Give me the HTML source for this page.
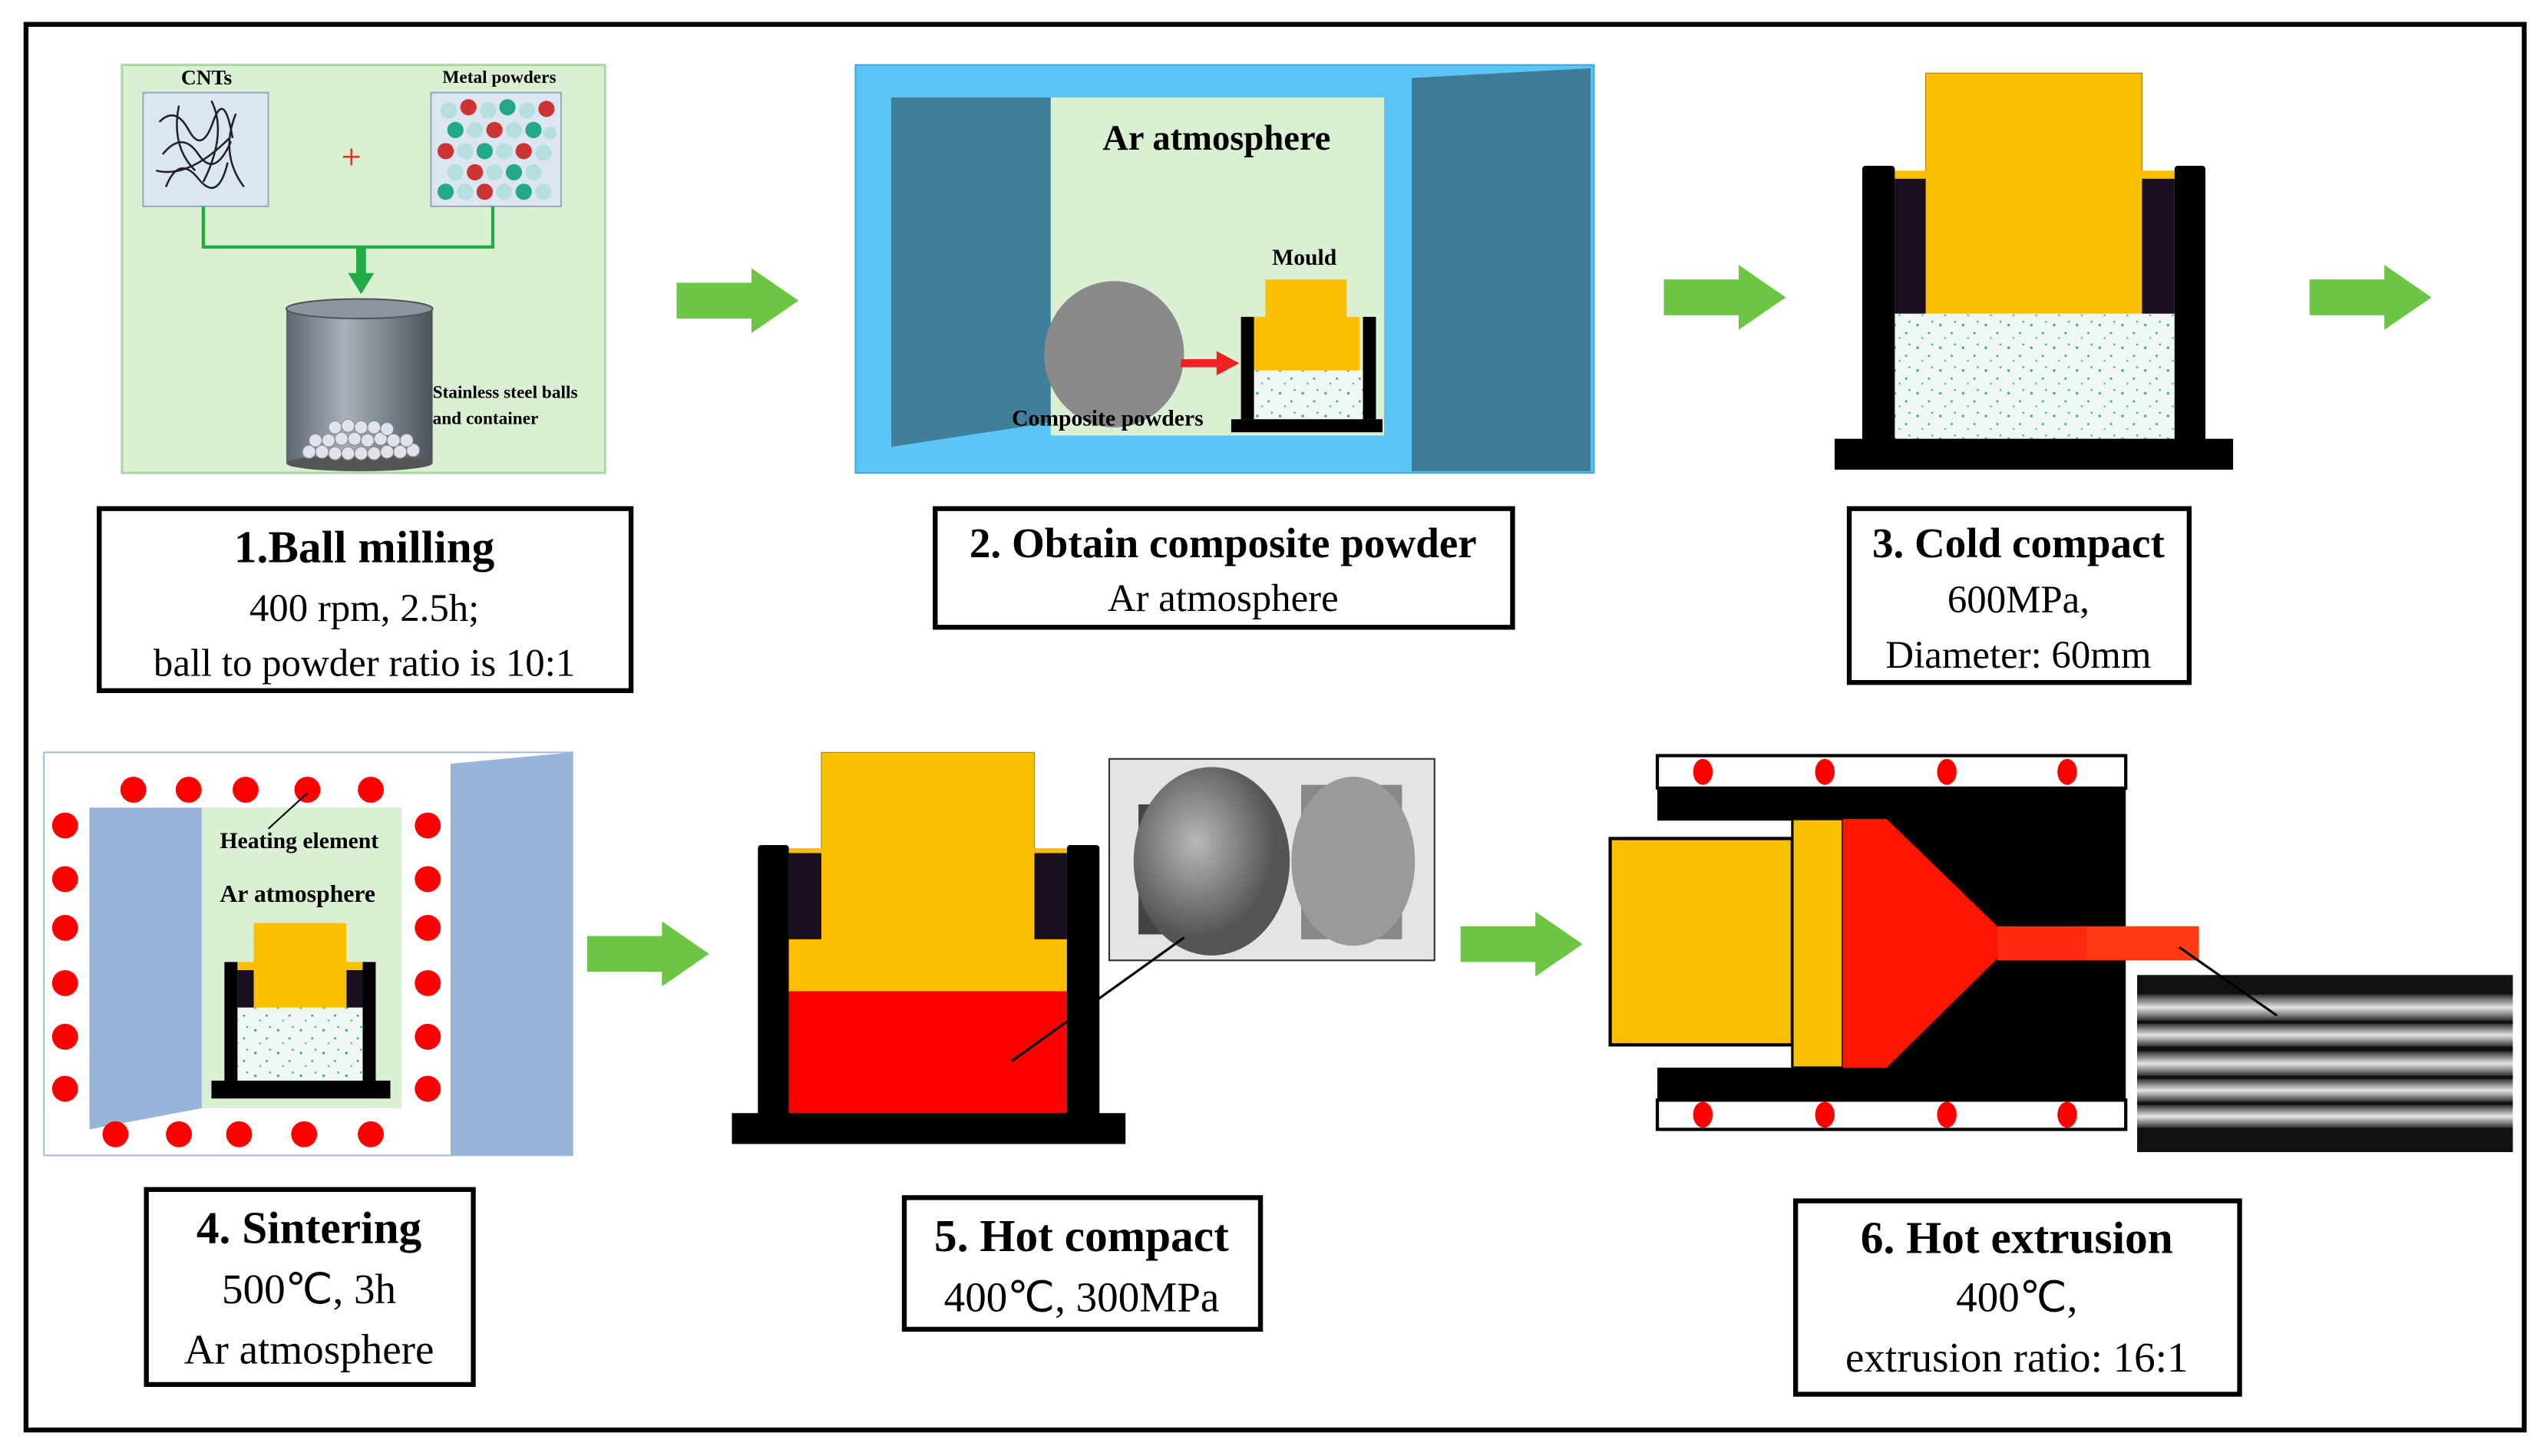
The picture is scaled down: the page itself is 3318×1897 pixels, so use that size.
<!DOCTYPE html>
<html><head><meta charset="utf-8"><style>
html,body{margin:0;padding:0;background:#fff;}
svg{display:block;}
text{font-family:"Liberation Serif",serif;}
</style></head><body>
<svg width="3318" height="1897" viewBox="0 0 1566 896" preserveAspectRatio="none" xmlns="http://www.w3.org/2000/svg">
<defs>
<linearGradient id="cyl" x1="0" x2="1"><stop offset="0" stop-color="#5d6670"/><stop offset="0.4" stop-color="#a9b1ba"/><stop offset="1" stop-color="#4a525b"/></linearGradient>
<pattern id="speck" width="14" height="14" patternUnits="userSpaceOnUse"><rect width="14" height="14" fill="#eef7f4"/><circle cx="3" cy="4" r="0.8" fill="#3fa88a"/><circle cx="10" cy="9" r="0.7" fill="#3fa88a"/><circle cx="6" cy="12" r="0.6" fill="#5bb"/><circle cx="12" cy="2" r="0.6" fill="#3fa88a"/></pattern>
<linearGradient id="wire" x1="0" y1="0" x2="0" y2="1"><stop offset="0" stop-color="#333"/><stop offset="0.5" stop-color="#e6e6e6"/><stop offset="1" stop-color="#333"/></linearGradient>
<radialGradient id="bil" cx="0.4" cy="0.4"><stop offset="0" stop-color="#b8b8b8"/><stop offset="1" stop-color="#555"/></radialGradient>
<g id="garrow"><rect x="0" y="-11" width="48" height="22" fill="#6cc644"/><polygon points="46,-20 75,0 46,20" fill="#6cc644"/></g>
</defs>
<rect x="0" y="0" width="1566" height="896" fill="#fff"/>
<rect x="16" y="15" width="1536" height="865" fill="none" stroke="#000" stroke-width="3"/>

<!-- Panel 1 -->
<rect x="75" y="40" width="297" height="251" fill="#d9f0d3" stroke="#a8dba0" stroke-width="1.5"/>
<text x="127" y="52" font-size="13" font-weight="bold" text-anchor="middle">CNTs</text>
<text x="307" y="51" font-size="11" font-weight="bold" text-anchor="middle">Metal powders</text>
<rect x="88" y="57" width="77" height="70" fill="#dce6f2" stroke="#9ab" />
<path d="M98,75 q10,-10 18,5 t15,-5 t12,10 M100,95 q12,-15 22,0 t20,-8 M102,115 q8,-20 20,-5 t18,-10 M110,65 q-5,25 10,40 M130,62 q10,20 -5,50 M145,70 q-10,25 5,45 M96,105 q20,5 45,-20" stroke="#222" fill="none" stroke-width="1.2"/>
<rect x="265" y="57" width="80" height="70" fill="#dce6f2" stroke="#9ab"/>
<g>
<circle cx="276" cy="68" r="5" fill="#b5dede"/><circle cx="288" cy="66" r="5" fill="#c33"/><circle cx="300" cy="68" r="5" fill="#b5dede"/><circle cx="312" cy="66" r="5" fill="#2a8"/><circle cx="324" cy="68" r="5" fill="#b5dede"/><circle cx="336" cy="67" r="5" fill="#c33"/>
<circle cx="280" cy="80" r="5" fill="#2a8"/><circle cx="292" cy="80" r="5" fill="#b5dede"/><circle cx="304" cy="80" r="5" fill="#c33"/><circle cx="316" cy="80" r="5" fill="#b5dede"/><circle cx="328" cy="80" r="5" fill="#2a8"/><circle cx="338" cy="82" r="4" fill="#b5dede"/>
<circle cx="274" cy="93" r="5" fill="#c33"/><circle cx="286" cy="93" r="5" fill="#b5dede"/><circle cx="298" cy="93" r="5" fill="#2a8"/><circle cx="310" cy="93" r="5" fill="#b5dede"/><circle cx="322" cy="93" r="5" fill="#c33"/><circle cx="334" cy="94" r="5" fill="#b5dede"/>
<circle cx="280" cy="106" r="5" fill="#b5dede"/><circle cx="292" cy="106" r="5" fill="#c33"/><circle cx="304" cy="106" r="5" fill="#b5dede"/><circle cx="316" cy="106" r="5" fill="#2a8"/><circle cx="328" cy="106" r="5" fill="#b5dede"/>
<circle cx="274" cy="118" r="5" fill="#2a8"/><circle cx="286" cy="118" r="5" fill="#b5dede"/><circle cx="298" cy="118" r="5" fill="#c33"/><circle cx="310" cy="118" r="5" fill="#b5dede"/><circle cx="322" cy="118" r="5" fill="#2a8"/><circle cx="334" cy="118" r="5" fill="#b5dede"/>
</g>
<text x="216" y="104" font-size="22" fill="#e22" text-anchor="middle">+</text>
<path d="M125,127 V152 H303 V127" stroke="#22aa44" stroke-width="2" fill="none"/>
<rect x="219" y="152" width="6" height="18" fill="#22aa44"/><polygon points="214,168 230,168 222,181" fill="#22aa44"/>
<rect x="176" y="190" width="90" height="95" fill="url(#cyl)"/>
<ellipse cx="221" cy="190" rx="45" ry="6" fill="#8d96a0" stroke="#555"/>
<ellipse cx="221" cy="285" rx="45" ry="5" fill="#555"/>
<g fill="#e0e4e8" stroke="#889" stroke-width="0.5">
<circle cx="190" cy="278" r="4"/><circle cx="198" cy="278" r="4"/><circle cx="206" cy="279" r="4"/><circle cx="214" cy="279" r="4"/><circle cx="222" cy="279" r="4"/><circle cx="230" cy="279" r="4"/><circle cx="238" cy="278" r="4"/><circle cx="246" cy="278" r="4"/><circle cx="254" cy="277" r="4"/>
<circle cx="194" cy="271" r="4"/><circle cx="202" cy="271" r="4"/><circle cx="210" cy="270" r="4"/><circle cx="218" cy="270" r="4"/><circle cx="226" cy="271" r="4"/><circle cx="234" cy="270" r="4"/><circle cx="242" cy="271" r="4"/><circle cx="250" cy="271" r="4"/>
<circle cx="206" cy="263" r="4"/><circle cx="214" cy="262" r="4"/><circle cx="222" cy="263" r="4"/><circle cx="230" cy="263" r="4"/><circle cx="238" cy="264" r="4"/>
</g>
<text x="266" y="245" font-size="11" font-weight="bold">Stainless steel balls</text>
<text x="266" y="261" font-size="11" font-weight="bold">and container</text>

<use href="#garrow" x="416" y="185"/>
<use href="#garrow" x="1023" y="183"/>
<use href="#garrow" x="1420" y="183"/>
<use href="#garrow" x="361" y="587"/>
<use href="#garrow" x="898" y="581"/>

<!-- Panel 2 -->
<rect x="526" y="40" width="454" height="251" fill="#5bc6f5" stroke="#3aa8e0"/>
<rect x="646" y="60" width="205" height="208" fill="#d9f0d3"/>
<polygon points="548,60 646,60 646,260 548,275" fill="#3f7f99"/>
<polygon points="868,48 978,42 978,290 868,290" fill="#3f7a96"/>
<text x="748" y="92" font-size="22" font-weight="bold" text-anchor="middle">Ar atmosphere</text>
<ellipse cx="685" cy="218" rx="43" ry="45" fill="#8a8a8a"/>
<rect x="726" y="221" width="24" height="5" fill="#e22"/><polygon points="748,216 762,223.5 748,231" fill="#e22"/>
<text x="802" y="163" font-size="14" font-weight="bold" text-anchor="middle">Mould</text>
<rect x="771" y="228" width="67" height="30" fill="url(#speck)"/>
<rect x="778" y="172" width="50" height="24" fill="#fcbf00"/>
<rect x="771" y="195" width="65" height="33" fill="#fcbf00"/>
<rect x="763" y="195" width="8" height="63" fill="#000"/><rect x="838" y="195" width="8" height="63" fill="#000"/>
<rect x="757" y="258" width="93" height="8" fill="#000"/>
<text x="681" y="262" font-size="14" font-weight="bold" text-anchor="middle">Composite powders</text>

<!-- Panel 3 -->
<rect x="1165" y="193" width="172" height="77" fill="url(#speck)"/>
<rect x="1184" y="45" width="133" height="62" fill="#fcbf00" stroke="#a08000" stroke-width="0.5"/>
<rect x="1165" y="105" width="172" height="88" fill="#fcbf00"/>
<rect x="1165" y="110" width="19" height="83" fill="#1a0f20"/><rect x="1317" y="110" width="20" height="83" fill="#1a0f20"/>
<rect x="1145" y="102" width="20" height="172" fill="#000" rx="2"/><rect x="1337" y="102" width="19" height="172" fill="#000" rx="2"/>
<rect x="1128" y="270" width="245" height="19" fill="#000"/>

<!-- Label boxes -->
<g fill="#fff" stroke="#000" stroke-width="3">
<rect x="61" y="313" width="327" height="112"/>
<rect x="575" y="313" width="355" height="73"/>
<rect x="1137" y="313" width="209" height="107"/>
<rect x="90" y="732" width="201" height="120"/>
<rect x="556" y="737" width="219" height="81"/>
<rect x="1104" y="739" width="273" height="119"/>
</g>
<g text-anchor="middle" font-size="24">
<text x="224" y="346" font-weight="bold" font-size="28">1.Ball milling</text>
<text x="224" y="382">400 rpm, 2.5h;</text>
<text x="224" y="416">ball to powder ratio is 10:1</text>
<text x="752" y="343" font-weight="bold" font-size="26">2. Obtain composite powder</text>
<text x="752" y="376">Ar atmosphere</text>
<text x="1241" y="343" font-weight="bold" font-size="26">3. Cold compact</text>
<text x="1241" y="377">600MPa,</text>
<text x="1241" y="411">Diameter: 60mm</text>
<text x="190" y="765" font-weight="bold" font-size="28">4. Sintering</text>
<text x="190" y="802" font-size="26">500℃, 3h</text>
<text x="190" y="839" font-size="26">Ar atmosphere</text>
<text x="665" y="770" font-weight="bold" font-size="28">5. Hot compact</text>
<text x="665" y="807" font-size="26">400℃, 300MPa</text>
<text x="1240" y="771" font-weight="bold" font-size="28">6. Hot extrusion</text>
<text x="1240" y="807" font-size="26">400℃,</text>
<text x="1240" y="844" font-size="26">extrusion ratio: 16:1</text>
</g>

<!-- Panel 4 -->
<rect x="27" y="463" width="325" height="248" fill="#fff" stroke="#aabbdd"/>
<polygon points="277,470 352,463 352,711 277,711" fill="#9ab4d9"/>
<rect x="124" y="497" width="123" height="185" fill="#d9f0d3"/>
<polygon points="55,497 124,497 124,682 55,695" fill="#9ab4d9"/>
<g fill="#f00">
<circle cx="82" cy="486" r="8"/><circle cx="116" cy="486" r="8"/><circle cx="151" cy="486" r="8"/><circle cx="189" cy="486" r="8"/><circle cx="228" cy="486" r="8"/>
<circle cx="71" cy="698" r="8"/><circle cx="110" cy="698" r="8"/><circle cx="147" cy="698" r="8"/><circle cx="187" cy="698" r="8"/><circle cx="228" cy="698" r="8"/>
<circle cx="40" cy="508" r="8"/><circle cx="40" cy="541" r="8"/><circle cx="40" cy="571" r="8"/><circle cx="40" cy="605" r="8"/><circle cx="40" cy="638" r="8"/><circle cx="40" cy="670" r="8"/>
<circle cx="263" cy="508" r="8"/><circle cx="263" cy="541" r="8"/><circle cx="263" cy="571" r="8"/><circle cx="263" cy="605" r="8"/><circle cx="263" cy="638" r="8"/><circle cx="263" cy="670" r="8"/>
</g>
<line x1="165" y1="510" x2="189" y2="488" stroke="#000" stroke-width="1"/>
<text x="184" y="522" font-size="14" font-weight="bold" text-anchor="middle">Heating element</text>
<text x="183" y="555" font-size="15" font-weight="bold" text-anchor="middle">Ar atmosphere</text>
<rect x="146" y="620" width="77" height="45" fill="url(#speck)"/>
<rect x="156" y="568" width="57" height="26" fill="#fcbf00"/>
<rect x="146" y="592" width="77" height="28" fill="#fcbf00"/>
<rect x="146" y="597" width="10" height="23" fill="#1a0f20"/><rect x="213" y="597" width="10" height="23" fill="#1a0f20"/>
<rect x="138" y="592" width="8" height="73" fill="#000"/><rect x="223" y="592" width="8" height="73" fill="#000"/>
<rect x="130" y="665" width="110" height="11" fill="#000"/>

<!-- Panel 5 -->
<rect x="505" y="463" width="131" height="62" fill="#fcbf00" stroke="#a08000" stroke-width="0.5"/>
<rect x="485" y="522" width="171" height="88" fill="#fcbf00"/>
<rect x="485" y="610" width="171" height="77" fill="#f00"/>
<rect x="485" y="525" width="20" height="53" fill="#1a0f20"/><rect x="636" y="525" width="20" height="53" fill="#1a0f20"/>
<rect x="466" y="520" width="19" height="170" fill="#000" rx="2"/><rect x="656" y="520" width="20" height="170" fill="#000" rx="2"/>
<rect x="450" y="685" width="242" height="19" fill="#000"/>
<rect x="682" y="467" width="200" height="124" fill="#e4e4e4" stroke="#333"/>
<rect x="700" y="495" width="70" height="80" fill="#444"/>
<ellipse cx="745" cy="530" rx="48" ry="58" fill="url(#bil)"/>
<rect x="800" y="483" width="62" height="95" fill="#888"/>
<ellipse cx="832" cy="530" rx="38" ry="52" fill="#9a9a9a"/>
<line x1="622" y1="653" x2="728" y2="577" stroke="#000" stroke-width="1.5"/>

<!-- Panel 6 -->
<rect x="1019" y="465" width="288" height="20" fill="#fff" stroke="#000" stroke-width="2"/>
<rect x="1019" y="677" width="288" height="18" fill="#fff" stroke="#000" stroke-width="2"/>
<rect x="1019" y="485" width="288" height="192" fill="#000"/>
<g fill="#f00">
<ellipse cx="1047" cy="475" rx="6" ry="8"/><ellipse cx="1122" cy="475" rx="6" ry="8"/><ellipse cx="1197" cy="475" rx="6" ry="8"/><ellipse cx="1271" cy="475" rx="6" ry="8"/>
<ellipse cx="1047" cy="686" rx="6" ry="8"/><ellipse cx="1122" cy="686" rx="6" ry="8"/><ellipse cx="1197" cy="686" rx="6" ry="8"/><ellipse cx="1271" cy="686" rx="6" ry="8"/>
</g>
<rect x="1019" y="505" width="83" height="152" fill="#fff"/>
<rect x="990" y="516" width="112" height="127" fill="#fcbf00" stroke="#000" stroke-width="2"/>
<rect x="1102" y="504" width="31" height="153" fill="#fcbf00" stroke="#000" stroke-width="1.5"/>
<polygon points="1133,504 1160,504 1228,570 1228,590 1160,657 1133,657" fill="#ff1500"/>
<rect x="1228" y="570" width="55" height="21" fill="#ff2a10"/>
<rect x="1283" y="570" width="69" height="21" fill="#ff3a12"/>
<rect x="1314" y="600" width="231" height="109" fill="#111"/>
<g fill="url(#wire)">
<rect x="1314" y="612" width="231" height="16"/><rect x="1314" y="630" width="231" height="14"/><rect x="1314" y="647" width="231" height="15"/><rect x="1314" y="664" width="231" height="14"/><rect x="1314" y="680" width="231" height="14"/>
</g>
<line x1="1340" y1="583" x2="1400" y2="625" stroke="#000" stroke-width="1.5"/>
</svg>
</body></html>
